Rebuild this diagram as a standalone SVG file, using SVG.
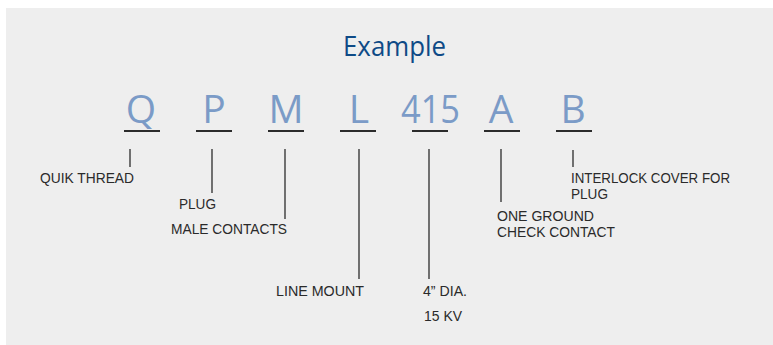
<svg xmlns="http://www.w3.org/2000/svg" width="773" height="345" viewBox="0 0 773 345">
<style>
.title{font-family:"Open Sans","Liberation Sans",sans-serif;font-size:27px;fill:#0e4a86;text-anchor:middle}
.code{font-family:"Open Sans","Liberation Sans",sans-serif;font-size:39px;fill:#7b9bc7;text-anchor:middle}
.ul{stroke:#2b2b2b;stroke-width:2.2;fill:none}
.ld{stroke:#3a3a3a;stroke-width:1.4;fill:none}
.lbl{font-family:"Liberation Sans","Open Sans",sans-serif;font-size:15px;fill:#2a2a2a}
</style>
<rect x="6" y="8" width="767" height="337" fill="#eeeeee"/>
<text class="title" x="394.5" y="56" textLength="103" lengthAdjust="spacingAndGlyphs">Example</text>
<g id="code-Q"><text class="code" x="141" y="123">Q</text><line class="ul" x1="124" y1="131" x2="160" y2="131"/></g>
<g id="code-P"><text class="code" x="214" y="123">P</text><line class="ul" x1="196" y1="131" x2="232" y2="131"/></g>
<g id="code-M"><text class="code" x="286" y="123">M</text><line class="ul" x1="268" y1="131" x2="304" y2="131"/></g>
<g id="code-L"><text class="code" x="359" y="123">L</text><line class="ul" x1="340" y1="131" x2="376" y2="131"/></g>
<g id="code-415"><text class="code" x="430.5" y="123" textLength="59" lengthAdjust="spacingAndGlyphs">415</text><line class="ul" x1="412" y1="131" x2="448" y2="131"/></g>
<g id="code-A"><text class="code" x="501" y="123">A</text><line class="ul" x1="484" y1="131" x2="520" y2="131"/></g>
<g id="code-B"><text class="code" x="573" y="123">B</text><line class="ul" x1="556" y1="131" x2="592" y2="131"/></g>
<g id="connectors">
<line class="ld" x1="130" y1="149" x2="130" y2="167"/>
<line class="ld" x1="212" y1="149" x2="212" y2="193"/>
<line class="ld" x1="285" y1="149" x2="285" y2="219"/>
<line class="ld" x1="359" y1="149" x2="359" y2="279"/>
<line class="ld" x1="429" y1="149" x2="429" y2="279"/>
<line class="ld" x1="501" y1="149" x2="501" y2="202"/>
<line class="ld" x1="573" y1="150" x2="573" y2="167"/>
</g>
<g id="label-quik"><text class="lbl" x="40" y="183" textLength="94" lengthAdjust="spacingAndGlyphs">QUIK THREAD</text></g>
<g id="label-plug"><text class="lbl" x="179" y="209" textLength="37" lengthAdjust="spacingAndGlyphs">PLUG</text></g>
<g id="label-male"><text class="lbl" x="171" y="234" textLength="116" lengthAdjust="spacingAndGlyphs">MALE CONTACTS</text></g>
<g id="label-line"><text class="lbl" x="276" y="296" textLength="88" lengthAdjust="spacingAndGlyphs">LINE MOUNT</text></g>
<g id="label-dia"><text class="lbl" x="423" y="296" textLength="44" lengthAdjust="spacingAndGlyphs">4” DIA.</text><text class="lbl" x="424" y="321" textLength="38" lengthAdjust="spacingAndGlyphs">15 KV</text></g>
<g id="label-ground"><text class="lbl" x="497" y="221" textLength="97" lengthAdjust="spacingAndGlyphs">ONE GROUND</text><text class="lbl" x="497" y="237" textLength="118" lengthAdjust="spacingAndGlyphs">CHECK CONTACT</text></g>
<g id="label-interlock"><text class="lbl" x="571" y="183" textLength="159" lengthAdjust="spacingAndGlyphs">INTERLOCK COVER FOR</text><text class="lbl" x="571" y="199" textLength="37" lengthAdjust="spacingAndGlyphs">PLUG</text></g>
</svg>
